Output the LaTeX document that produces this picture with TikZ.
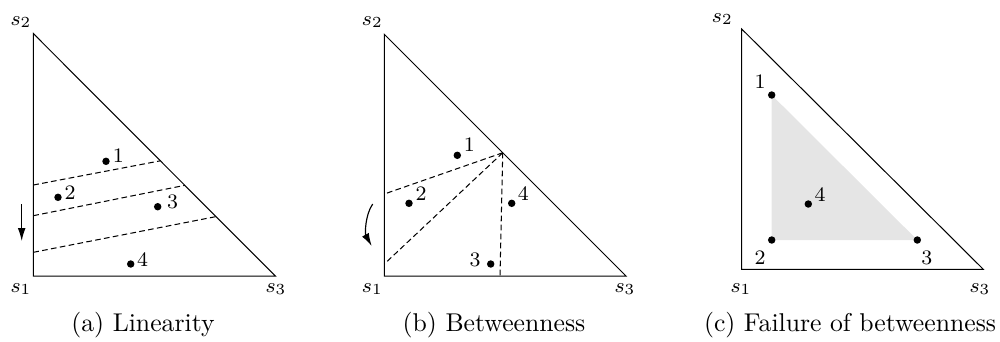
\documentclass[tikz,border=0pt]{standalone}
\usetikzlibrary{arrows.meta,calc}
\begin{document}
\begin{tikzpicture}[x=0.389pt,y=-0.389pt,
  edge/.style={line width=0.4pt},
  dsh/.style={line width=0.4pt, dash pattern=on 2.2pt off 1.3pt},
  dot/.style={circle, fill=black, inner sep=0pt, minimum size=2.9pt},
  lbl/.style={font=\fontsize{8}{9.6}\selectfont, inner sep=0pt},
  captxt/.style={font=\normalsize, inner sep=0pt},
  arr/.style={line width=0.45pt, -{Latex[length=5pt,width=3pt]}}]
\useasboundingbox (0,0) rectangle (1000,341);

% ---------------- (a) Linearity ----------------
\coordinate (a1) at (33.3,276);
\coordinate (a2) at (33.3,33.5);
\coordinate (a3) at (275.3,276);
\draw[edge] (a2) -- (a1) -- (a3) -- cycle;
\node[lbl] (as2) at (21,22) {$s_2$};
\node[lbl] (as1) at (21,289) {$s_1$};
\node[lbl] (as3) at (276,289) {$s_3$};
\coordinate (al1) at (33.3,185);
\coordinate (al2) at (33.3,215.7);
\coordinate (al3) at (33.3,252.3);
\coordinate (ar1) at ($(a2)!0.525!(a3)$);
\coordinate (ar2) at ($(a2)!0.626!(a3)$);
\coordinate (ar3) at ($(a2)!0.755!(a3)$);
\draw[dsh] (al1) -- (ar1);
\draw[dsh] (al2) -- (ar2);
\draw[dsh] (al3) -- (ar3);
\node[dot] (ap1) at (106,161.3) {};
\node[dot] (ap2) at (58,197.3) {};
\node[dot] (ap3) at (157.7,206.7) {};
\node[dot] (ap4) at (130.7,264) {};
\node[lbl] (an1) at (118.3,156) {1};
\node[lbl] (an2) at (70,193) {2};
\node[lbl] (an3) at (172.7,202) {3};
\node[lbl] (an4) at (142.7,259.5) {4};
\coordinate (aa1) at (21.7,204);
\coordinate (aa2) at (21.7,241);
\draw[arr] (aa1) -- (aa2);
\node[captxt] (capa) at (143,325) {(a) Linearity};

% ---------------- (b) Betweenness ----------------
\coordinate (b1) at (384.3,276);
\coordinate (b2) at (384.3,34.3);
\coordinate (b3) at (626,276);
\draw[edge] (b2) -- (b1) -- (b3) -- cycle;
\node[lbl] (bs2) at (372.3,22) {$s_2$};
\node[lbl] (bs1) at (372.3,289) {$s_1$};
\node[lbl] (bs3) at (625,289) {$s_3$};
\coordinate (bP) at ($(b2)!0.49!(b3)$);
\coordinate (bl1) at (384.3,194);
\coordinate (bl2) at (384.3,264);
\coordinate (bl3) at (500,276);
\draw[dsh] (bP) -- (bl1);
\draw[dsh] (bP) -- (bl2);
\draw[dsh] (bP) -- (bl3);
\node[dot] (bp1) at (457.3,155.3) {};
\node[dot] (bp2) at (409,203.3) {};
\node[dot] (bp3) at (490.7,264) {};
\node[dot] (bp4) at (511.7,203.3) {};
\node[lbl] (bn1) at (469.3,145) {1};
\node[lbl] (bn2) at (421,194) {2};
\node[lbl] (bn3) at (475,259.5) {3};
\node[lbl] (bn4) at (523.3,194) {4};
\coordinate (ba1) at (372.7,204);
\coordinate (ba2) at (371.7,246);
\draw[arr] (ba1) .. controls (365,215) and (365,234) .. (ba2);
\node[captxt] (capb) at (494,325) {(b) Betweenness};

% ---------------- (c) Failure of betweenness ----------------
\coordinate (c1) at (741.7,269.3);
\coordinate (c2) at (741.7,29);
\coordinate (c3) at (983.3,269.3);
\coordinate (cq1) at (771.7,95);
\coordinate (cq2) at (771.7,240);
\coordinate (cq3) at (917.3,240);
\fill[gray!20] (cq1) -- (cq2) -- (cq3) -- cycle;
\node[dot] (cp1) at (cq1) {};
\node[dot] (cp2) at (cq2) {};
\node[dot] (cp3) at (cq3) {};
\node[dot] (cp4) at (808.3,204) {};
\draw[edge] (c2) -- (c1) -- (c3) -- cycle;
\node[lbl] (cs2) at (722.3,19) {$s_2$};
\node[lbl] (cs1) at (741,289) {$s_1$};
\node[lbl] (cs3) at (980,289) {$s_3$};
\node[lbl] (cn1) at (760,82) {1};
\node[lbl] (cn2) at (760,258) {2};
\node[lbl] (cn3) at (926.7,258) {3};
\node[lbl] (cn4) at (820,194.5) {4};
\node[captxt] (capc) at (850,325) {(c) Failure of betweenness};
\end{tikzpicture}
\end{document}
